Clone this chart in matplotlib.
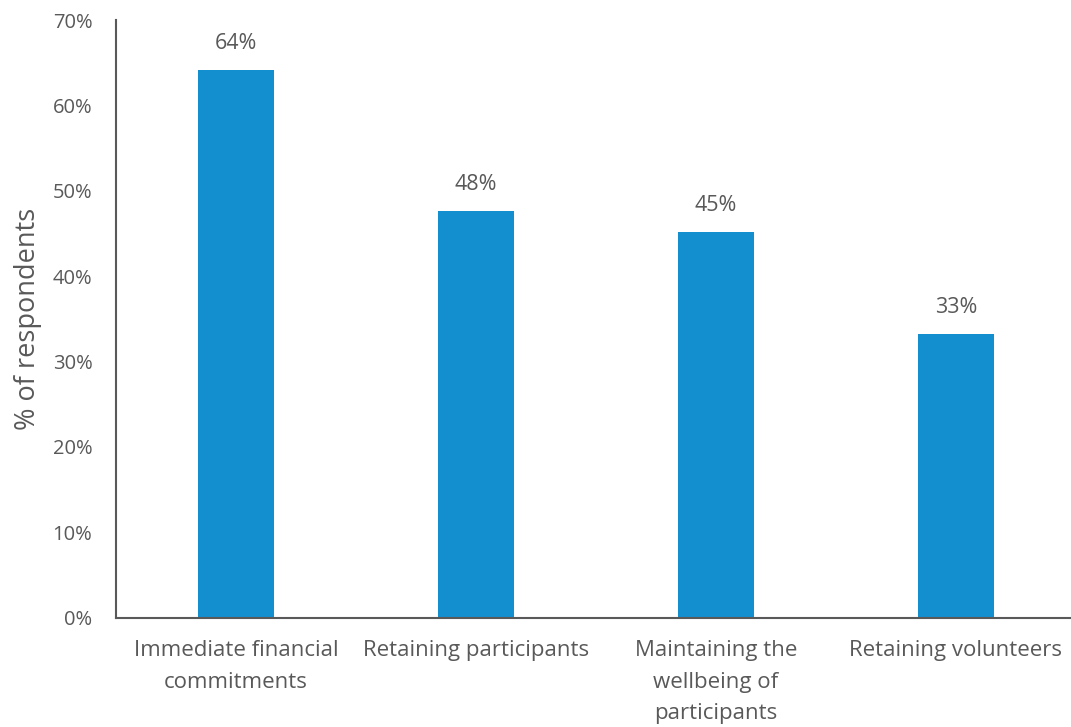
import matplotlib
matplotlib.use("Agg")
import matplotlib.pyplot as plt

categories = [
    "Immediate financial\ncommitments",
    "Retaining participants",
    "Maintaining the\nwellbeing of\nparticipants",
    "Retaining volunteers",
]
values = [64.2, 47.6, 45.2, 33.2]
yticks = [0, 10, 20, 30, 40, 50, 60, 70]
ytick_labels = [f"{t}%" for t in yticks]

bar_color = "#138ECF"
text_color = "#595959"
font = "Open Sans"

fig = plt.figure(figsize=(10.71, 7.27), dpi=100)
ax = fig.add_axes([116 / 1071, 1 - 617.5 / 727, (1071 - 116) / 1071, (617.5 - 20) / 727])

x = list(range(len(categories)))
bars = ax.bar(x, values, width=0.315, color=bar_color, zorder=2)

for xi, v in zip(x, values):
    ax.annotate(f"{v:.0f}%", (xi, v), xytext=(0, 19), textcoords="offset points",
                ha="center", va="center", fontsize=15.5, color=text_color, family=font)

ax.set_xlim(-0.5, 3.48)
ax.set_ylim(0, 70)
ax.set_yticks(yticks)
ax.set_yticklabels(ytick_labels, fontsize=14.5, color=text_color, family=font)
ax.set_xticks(x)
ax.set_xticklabels(categories, fontsize=16, color=text_color, family=font, linespacing=1.68, va="top")

ax.tick_params(axis="both", length=0)
ax.tick_params(axis="y", pad=17)
ax.tick_params(axis="x", pad=16)

for side in ("top", "right"):
    ax.spines[side].set_visible(False)
for side in ("left", "bottom"):
    ax.spines[side].set_color(text_color)
    ax.spines[side].set_linewidth(1.5)

ax.set_ylabel("% of respondents", fontsize=19.5, color=text_color, family=font, labelpad=8)

fig.savefig("out.png", dpi=100)
